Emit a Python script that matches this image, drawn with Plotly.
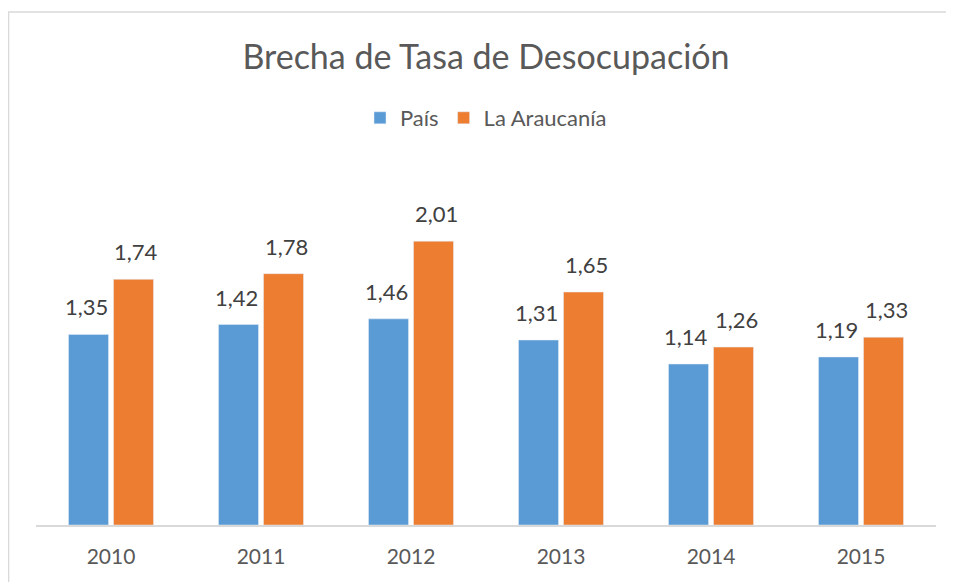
import plotly.graph_objects as go

years = ["2010", "2011", "2012", "2013", "2014", "2015"]
pais = [1.35, 1.42, 1.46, 1.31, 1.14, 1.19]
araucania = [1.74, 1.78, 2.01, 1.65, 1.26, 1.33]

BLUE = "#5B9BD5"
ORANGE = "#ED7D31"
FONT = "Lato"

fig = go.Figure()

fig.add_trace(go.Bar(x=years, y=pais, name="País", marker=dict(color=BLUE)))
fig.add_trace(go.Bar(x=years, y=araucania, name="La Araucanía", marker=dict(color=ORANGE)))

# value labels above each bar (x given as category index)
for vals, shift in ((pais, -25), (araucania, 25)):
    for i, v in enumerate(vals):
        fig.add_annotation(
            x=i, y=v, xshift=shift, yshift=12,
            text=f"{v:.2f}".replace(".", ","),
            showarrow=False, yanchor="bottom",
            font=dict(family=FONT, size=22, color="#404040"),
        )

# outer chart border (right and bottom edges fall outside the picture)
fig.add_shape(
    type="rect", xref="paper", yref="paper",
    x0=-0.0305, x1=1.2, y0=-0.25, y1=1.453,
    line=dict(color="#D9D9D9", width=1.5),
)

fig.update_layout(
    width=954,
    height=582,
    plot_bgcolor="white",
    paper_bgcolor="white",
    separators=",.",
    barmode="group",
    bargap=0.4,
    bargroupgap=0.111,
    margin=dict(l=28, r=26, t=164, b=65),
    title=dict(
        text="Brecha de Tasa de Desocupación",
        x=0.5, xref="paper", xanchor="center",
        y=1 - 49 / 582, yanchor="middle",
        font=dict(family=FONT, size=34, color="#595959"),
    ),
    legend=dict(
        orientation="h", x=0.5, xanchor="center",
        y=1.153, yanchor="middle",
        font=dict(family=FONT, size=22, color="#595959"),
    ),
    font=dict(family=FONT),
)

fig.update_xaxes(
    type="category", range=[-0.5, len(years) - 0.5],
    showline=True, linecolor="#D9D9D9", linewidth=1.5,
    ticks="", tickfont=dict(family=FONT, size=21, color="#595959"),
    ticklabelstandoff=12,
)
fig.update_yaxes(range=[0, 2.5], visible=False, showgrid=False)

fig.write_html("out.html")
